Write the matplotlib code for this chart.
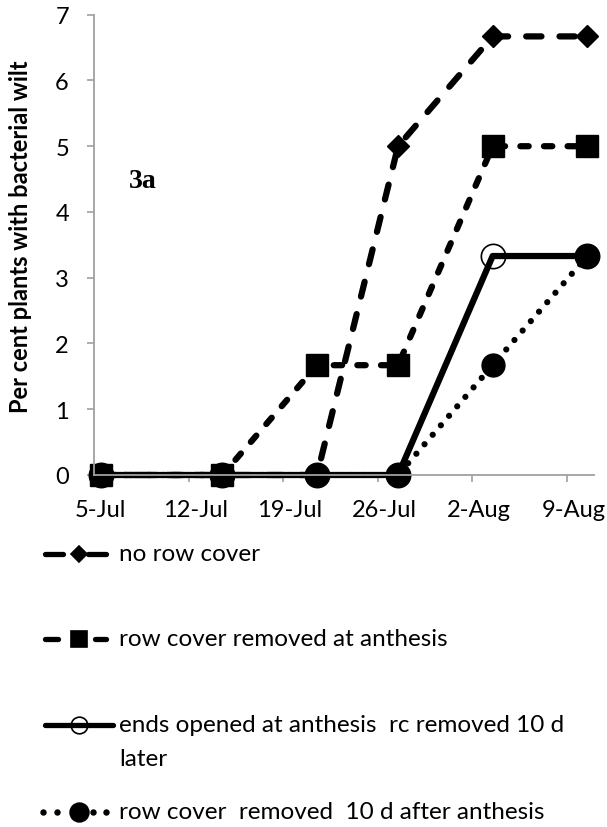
import matplotlib
matplotlib.use('Agg')
import matplotlib.pyplot as plt
import matplotlib.dates as mdates
from matplotlib.lines import Line2D
import pandas as pd

# sampling dates and % plants wilted per treatment
dates = pd.to_datetime(['2013-07-05', '2013-07-14', '2013-07-21',
                        '2013-07-27', '2013-08-03', '2013-08-10'])
no_cover = [0, 0, 0, 5.0, 6.67, 6.67]
removed_anthesis = [0, 0, 1.67, 1.67, 5.0, 5.0]
ends_opened = [0, 0, 0, 0, 3.33, 3.33]
removed_10d = [0, 0, 0, 0, 1.67, 3.33]

labels = ['no row cover',
          'row cover removed at anthesis',
          'ends opened at anthesis  rc removed 10 d\nlater',
          'row cover  removed  10 d after anthesis']
tick_dates = pd.to_datetime(['2013-07-05', '2013-07-12', '2013-07-19',
                             '2013-07-26', '2013-08-02', '2013-08-09'])

plt.rcParams['font.family'] = ['Lato', 'DejaVu Sans']
plt.rcParams['lines.scale_dashes'] = False

W, H = 607, 828
fig = plt.figure(figsize=(W / 100, H / 100), dpi=100)
ax = fig.add_axes([94 / W, 1 - 476 / H, (594 - 94) / W, (476 - 15.7) / H])

# line / marker styles
styles = [
    dict(ls=(0, (11, 13)), marker='D', mfc='black', dash_capstyle='round'),
    dict(ls=(0, (6, 11)), marker='s', mfc='black', dash_capstyle='round'),
    dict(ls='-', marker='o', mfc='none', mew=1.2),
    dict(ls=(0, (0.01, 9)), marker='o', mfc='black', dash_capstyle='round'),
]
plot_ms = [11, 16.5, 17.5, 16.5]
series = [no_cover, removed_anthesis, ends_opened, removed_10d]

for vals, st, ms in zip(series, styles, plot_ms):
    ax.plot(dates, vals, color='black', mec='black', lw=4.5, ms=ms,
            clip_on=False, **st)

one_day = pd.Timedelta(days=1)
ax.set_xlim(dates[0] - one_day / 2, dates[-1] + one_day / 2)
ax.set_ylim(0, 7)
ax.set_yticks(range(0, 8))

ax.set_xticks(tick_dates)
ax.xaxis.set_major_formatter(mdates.DateFormatter('%-d-%b'))
ax.set_xticks(tick_dates - one_day / 2, minor=True)
ax.tick_params(axis='x', which='major', length=0, pad=17, labelsize=17)
ax.tick_params(axis='x', which='minor', length=5, width=1.2, color='#a0a0a0')
ax.tick_params(axis='y', length=5, width=1.2, color='#a0a0a0', labelsize=17, pad=13)

for s in ['top', 'right']:
    ax.spines[s].set_visible(False)
for s in ['left', 'bottom']:
    ax.spines[s].set_color('#a0a0a0')
    ax.spines[s].set_linewidth(1.3)

fig.text(21 / W, 1 - 237 / H, 'Per cent plants with bacterial wilt',
         rotation=90, fontsize=17, fontweight='bold', ha='center', va='center')
fig.text(143 / W, 1 - 182 / H, '3a', family='Liberation Serif',
         fontsize=20, fontweight='bold', ha='center', va='center')

# legend below the plot: handle pieces in figure pixels
leg_y = [555, 640, 726, 813]
leg_segs = [[(45, 63), (88, 106)],
            [(45, 58), (95, 106)],
            [(45, 113)],
            []]
leg_dots = [[], [], [], [43, 57, 93, 106]]
leg_mark = [('D', 8.5, 'black'), ('s', 11.5, 'black'),
            ('o', 12, 'none'), ('o', 13.5, 'black')]


def fx(px):
    return px / W


def fy(py):
    return 1 - py / H


for y, segs, dots, (mk, ms, fc), lab in zip(leg_y, leg_segs, leg_dots, leg_mark, labels):
    for x0, x1 in segs:
        fig.add_artist(Line2D([fx(x0), fx(x1)], [fy(y), fy(y)],
                              transform=fig.transFigure, color='black',
                              lw=3.8, solid_capstyle='round'))
    if dots:
        fig.add_artist(Line2D([fx(d) for d in dots], [fy(y)] * len(dots),
                              transform=fig.transFigure, ls='none',
                              marker='o', ms=3.6, color='black'))
    fig.add_artist(Line2D([fx(79)], [fy(y)], transform=fig.transFigure,
                          ls='none', marker=mk, ms=ms, mfc=fc, mec='black',
                          mew=1.2))
    for i, line in enumerate(lab.split('\n')):
        fig.text(119 / W, 1 - (y + 34 * i) / H, line, fontsize=17.5,
                 ha='left', va='center')

fig.savefig('out.png', dpi=100)
